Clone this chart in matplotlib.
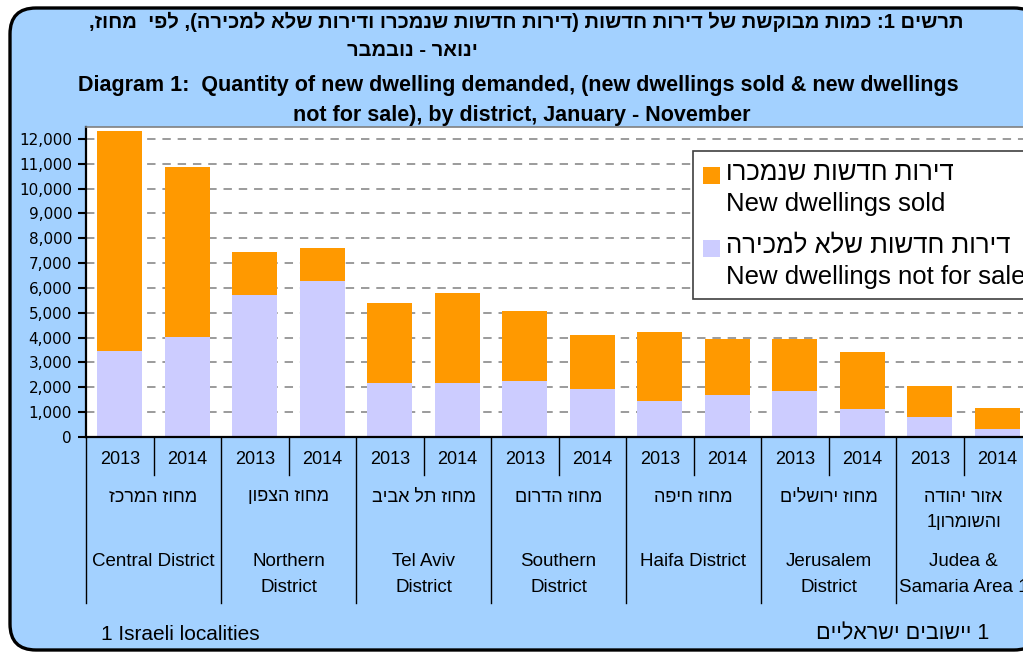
import numpy as np
import matplotlib
matplotlib.use("Agg")
import matplotlib.pyplot as plt
from matplotlib.patches import FancyBboxPatch, Rectangle
from matplotlib.ticker import StrMethodFormatter, MultipleLocator
from matplotlib import transforms

plt.rcParams['font.family'] = ['Liberation Sans', 'DejaVu Sans']

# data
years = ["2013", "2014"] * 7
not_for_sale = [3450, 4020, 5710, 6280, 2170, 2170, 2250, 1920, 1440, 1680, 1840, 1120, 790, 310]
sold = [8850, 6850, 1740, 1330, 3210, 3620, 2820, 2180, 2780, 2260, 2100, 2300, 1250, 850]
districts_he = ["מחוז המרכז", "מחוז הצפון", "מחוז תל אביב", "מחוז הדרום",
                "מחוז חיפה", "מחוז ירושלים", "אזור יהודה\nוהשומרון1"]
districts_en = ["Central District", "Northern\nDistrict", "Tel Aviv\nDistrict", "Southern\nDistrict",
                "Haifa District", "Jerusalem\nDistrict", "Judea &\nSamaria Area 1"]
legend_he = ["דירות חדשות שנמכרו", "דירות חדשות שלא למכירה"]
legend_en = ["New dwellings sold", "New dwellings not for sale"]
title_he = ["תרשים 1: כמות מבוקשת של דירות חדשות (דירות חדשות שנמכרו ודירות שלא למכירה), לפי  מחוז,",
            "ינואר - נובמבר"]
title_en = ["Diagram 1:  Quantity of new dwelling demanded, (new dwellings sold & new dwellings",
            "not for sale), by district, January - November"]
note_en = "1 Israeli localities"
note_he = "1 יישובים ישראליים"

c_sold = "#FF9900"
c_nfs = "#CCCCFF"
c_bg = "#A3D1FF"


def rtl(s):
    # matplotlib has no bidi: put hebrew into visual order
    out = s[::-1]
    return out.translate(str.maketrans("()", ")("))


W, H = 1023, 652
fig = plt.figure(figsize=(W / 100, H / 100), dpi=100)
fig.patch.set_facecolor("white")

bg = fig.add_axes([0, 0, 1, 1], label="bg")
bg.set_xlim(0, W)
bg.set_ylim(H, 0)
bg.axis("off")
bg.set_zorder(0)
bg.add_patch(FancyBboxPatch((10, 8), 1030, 642, boxstyle="round,pad=0,rounding_size=26",
                            facecolor=c_bg, edgecolor="black", linewidth=2.4))

ax = fig.add_axes([86 / W, (H - 437) / H, 945 / W, 310 / H], label="main")
ax.set_zorder(1)
x = np.arange(len(years))
ax.bar(x, not_for_sale, width=0.67, color=c_nfs, zorder=2)
ax.bar(x, sold, width=0.67, bottom=not_for_sale, color=c_sold, zorder=2)
ax.set_xlim(-0.5, len(years) - 0.5)
ax.set_ylim(0, 12480)
ax.set_facecolor("white")
ax.set_axisbelow(True)
ax.yaxis.set_major_locator(MultipleLocator(1000))
ax.yaxis.set_major_formatter(StrMethodFormatter("{x:,.0f}"))
ax.grid(axis="y", color="#808080", linestyle=(0, (5.5, 4.5)), linewidth=1.1)
ax.set_xticks([])
ax.tick_params(axis="y", direction="out", length=6, width=1.5, color="black", pad=4)
for lab in ax.get_yticklabels():
    lab.set_fontfamily("DejaVu Sans")
    lab.set_fontsize(11)
ax.spines["left"].set_linewidth(1.6)
ax.spines["left"].set_color("black")
ax.spines["bottom"].set_linewidth(1.6)
ax.spines["bottom"].set_color("black")
ax.spines["top"].set_color("#808080")
ax.spines["top"].set_linewidth(1.2)
ax.spines["right"].set_color("#808080")

ov = fig.add_axes([0, 0, 1, 1], label="overlay")
ov.set_xlim(0, W)
ov.set_ylim(H, 0)
ov.axis("off")
ov.patch.set_alpha(0)
ov.set_zorder(3)

# titles
ov.text(526, 22, rtl(title_he[0]), ha="center", va="center", fontsize=14.5, fontweight="bold")
ov.text(412, 50, rtl(title_he[1]), ha="center", va="center", fontsize=14.5, fontweight="bold")
ov.text(518, 86, title_en[0], ha="center", va="center", fontsize=15.5, fontweight="bold")
ov.text(522, 115, title_en[1], ha="center", va="center", fontsize=15.5, fontweight="bold")

# multi-level category axis under the plot
tr = transforms.blended_transform_factory(ax.transData, ov.transData)
for i, yr in enumerate(years):
    ov.text(i, 459, yr, transform=tr, ha="center", va="center", fontsize=13)
for k in range(len(districts_he)):
    ov.plot([2 * k + 0.5, 2 * k + 0.5], [437, 475], transform=tr, color="black", lw=1, clip_on=False)
for k in range(len(districts_he) + 1):
    ov.plot([2 * k - 0.5, 2 * k - 0.5], [437, 603], transform=tr, color="black", lw=1, clip_on=False)
for k, (he, en) in enumerate(zip(districts_he, districts_en)):
    xc = 2 * k + 0.5
    for j, line in enumerate(he.split("\n")):
        ov.text(xc, 497 + 25 * j, rtl(line), transform=tr, ha="center", va="center", fontsize=13)
    for j, line in enumerate(en.split("\n")):
        ov.text(xc, 561 + 26 * j, line, transform=tr, ha="center", va="center", fontsize=13.5)

# legend
ov.add_patch(Rectangle((693, 151), 360, 148, facecolor="white", edgecolor="#404040", lw=1.2))
for j, col in enumerate([c_sold, c_nfs]):
    y0 = 175 + 73 * j
    ov.add_patch(Rectangle((703, y0 - 8), 17, 17, facecolor=col, edgecolor="none"))
    ov.text(726, y0 - 2, rtl(legend_he[j]), ha="left", va="center", fontsize=18.5)
    ov.text(726, y0 + 29, legend_en[j], ha="left", va="center", fontsize=18.5)

# footnotes
ov.text(101, 634, note_en, ha="left", va="center", fontsize=15)
ov.text(989, 634, rtl(note_he), ha="right", va="center", fontsize=15.5)

fig.savefig("out.png", dpi=100)
